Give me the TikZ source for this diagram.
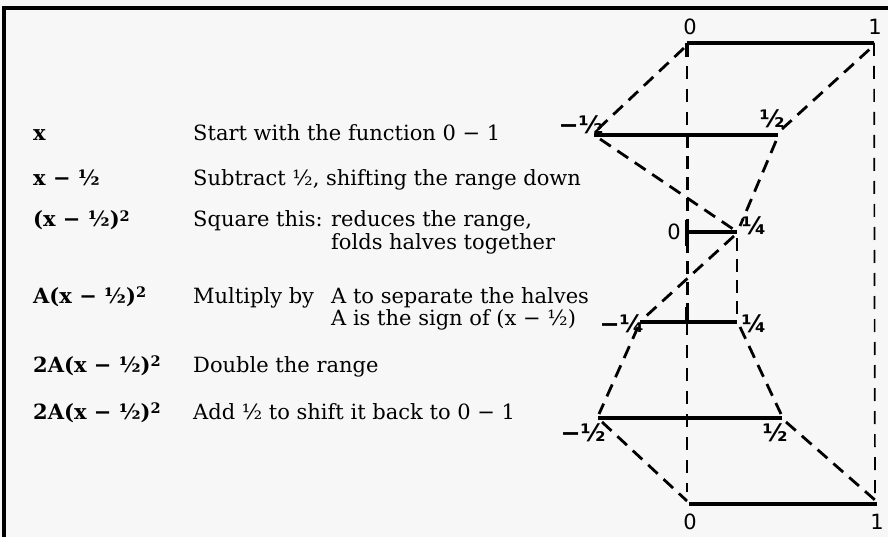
\documentclass[tikz,border=0pt]{standalone}
\usepackage{fontspec}
\setmainfont{DejaVu Serif}
\newfontfamily\lblfont{DejaVu Sans}
\newcommand\mysq{\raisebox{0.55ex}{\fontsize{14.5}{14.5}\selectfont 2}}
\begin{document}
\begin{tikzpicture}[x=1pt,y=-1pt,
  txt/.style={anchor=base west, inner sep=0pt, font=\fontsize{21}{23}\selectfont},
  mth/.style={anchor=base west, inner sep=0pt, font=\bfseries\fontsize{21}{23}\selectfont},
  solidseg/.style={line width=3.6pt},
  dashseg/.style={line width=2.8pt, dash pattern=on 13pt off 8pt},
  thinvert/.style={line width=1.7pt, dash pattern=on 13pt off 10pt},
  thickvert/.style={line width=3pt, dash pattern=on 13pt off 8pt},
  lbl/.style={font=\lblfont\fontsize{21}{21}\selectfont, inner sep=1pt},
  frac/.style={font=\lblfont\bfseries\fontsize{24}{24}\selectfont, inner sep=1pt}]
\useasboundingbox (0,0) rectangle (888,537);
\fill[black!3] (0,0) rectangle (888,537);
% frame
\coordinate (fbl) at (4,537);
\coordinate (ftl) at (4,8);
\coordinate (ftr) at (888,8);
\draw[line width=3.2pt] (fbl) -- (ftl) -- (ftr);

% text rows
\node[mth] (m1) at (33,141) {x};
\node[txt] (d1) at (193,141) {Start with the function 0 − 1};
\node[mth] (m2) at (33,186) {x − ½};
\node[txt] (d2) at (193,186) {Subtract ½, shifting the range down};
\node[mth] (m3) at (33,227) {(x − ½)\mysq};
\node[txt] (d3) at (193,227) {Square this:};
\node[txt] (d3a) at (331,227) {reduces the range,};
\node[txt] (d3b) at (331,250) {folds halves together};
\node[mth] (m4) at (33,303) {A(x − ½)\mysq};
\node[txt] (d4) at (193,303) {Multiply by};
\node[txt] (d4a) at (331,303) {A to separate the halves};
\node[txt] (d4b) at (331,325) {A is the sign of (x − ½)};
\node[mth] (m5) at (33,372) {2A(x − ½)\mysq};
\node[txt] (d5) at (193,372) {Double the range};
\node[mth] (m6) at (33,419) {2A(x − ½)\mysq};
\node[txt] (d6) at (193,419) {Add ½ to shift it back to 0 − 1};

% diagram points
\coordinate (T0) at (687,43);
\coordinate (T1) at (874,43);
\coordinate (A0) at (594,135);
\coordinate (A1) at (778,135);
\coordinate (Am) at (687,135);
\coordinate (B0) at (687,232);
\coordinate (B1) at (737,232);
\coordinate (C0) at (640,322);
\coordinate (C1) at (737,322);
\coordinate (Cm) at (687,322);
\coordinate (D0) at (598,418);
\coordinate (D1) at (782,418);
\coordinate (E0) at (689,504);
\coordinate (E1) at (877,504);
\coordinate (Vend) at (687,492);
\coordinate (Wend) at (875,498);
\coordinate (Ttick) at (687,57);
\coordinate (Ctick) at (687,307);
\coordinate (Btop) at (687,220);
\coordinate (Bbot) at (687,246);

% vertical guides
\draw[thinvert] (T0) -- (Am);
\draw[thickvert] (Am) -- (Cm);
\draw[thinvert] (Cm) -- (Vend);
\draw[thinvert] (T1) -- (Wend);

% solid ranges
\draw[solidseg] (T0) -- (T1);
\draw[solidseg] (T0) -- (Ttick);
\draw[solidseg] (A0) -- (A1);
\draw[solidseg] (B0) -- (B1);
\draw[solidseg] (Btop) -- (Bbot);
\draw[solidseg] (C0) -- (C1);
\draw[solidseg] (Cm) -- (Ctick);
\draw[solidseg] (D0) -- (D1);
\draw[solidseg] (E0) -- (E1);

% dashed mappings
\draw[dashseg] ([shift={(4,-6)}]A0) -- ([shift={(-3,5)}]T0);
\draw[dashseg] ([shift={(4,-6)}]A1) -- ([shift={(-3,5)}]T1);
\draw[dashseg] ([shift={(6,4)}]A0) -- ([shift={(-4,-3)}]B1);
\draw[dashseg] ([shift={(-2,6)}]A1) -- ([shift={(3,-6)}]B1);
\draw[dashseg] ([shift={(-3,4)}]B1) -- ([shift={(4,-4)}]C0);
\draw[dashseg] ([shift={(0,6)}]B1) -- ([shift={(0,-4)}]C1);
\draw[dashseg] ([shift={(-2,5)}]C0) -- ([shift={(1,-4)}]D0);
\draw[dashseg] ([shift={(3,5)}]C1) -- ([shift={(-1,-4)}]D1);
\draw[dashseg] ([shift={(4,4)}]D0) -- ([shift={(-2,-3)}]E0);
\draw[dashseg] ([shift={(4,4)}]D1) -- ([shift={(-2,-4)}]E1);

% labels
\node[lbl] (lT0) at (690,27) {0};
\node[lbl] (lT1) at (875,27) {1};
\node[frac] (lA0) at (581,125) {−½};
\node[frac] (lA1) at (772,119) {½};
\node[lbl] (lB0) at (674,232) {0};
\node[frac] (lB1) at (754,226) {¼};
\node[frac] (lC0) at (622,324) {−¼};
\node[frac] (lC1) at (754,324) {¼};
\node[frac] (lD0) at (583,433) {−½};
\node[frac] (lD1) at (775,433) {½};
\node[lbl] (lE0) at (690,522) {0};
\node[lbl] (lE1) at (877,522) {1};
\end{tikzpicture}
\end{document}
